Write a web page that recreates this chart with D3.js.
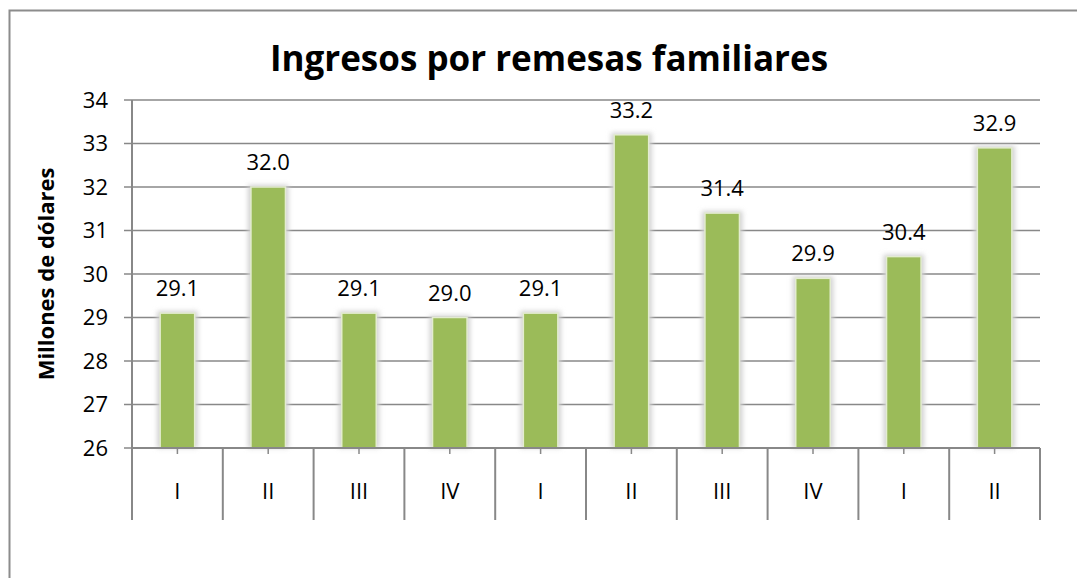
<!DOCTYPE html>
<html>
<head>
<meta charset="utf-8">
<script src="https://cdn.jsdelivr.net/npm/d3@7"></script>
<style>
  body { margin: 0; background: #fff; }
  text { font-family: "Open Sans", "Noto Sans", sans-serif; }
</style>
</head>
<body>
<div id="chart"></div>
<script>
// data
let quarters = ["I", "II", "III", "IV", "I", "II", "III", "IV", "I", "II"];
let remesas = [29.1, 32.0, 29.1, 29.0, 29.1, 33.2, 31.4, 29.9, 30.4, 32.9];
let yTicks = [26, 27, 28, 29, 30, 31, 32, 33, 34];

let svgWidth = 1077;
let svgHeight = 578;

let margin = { top: 100, right: 37, bottom: 130, left: 132 };
let chartWidth = svgWidth - margin.left - margin.right;
let chartHeight = svgHeight - margin.top - margin.bottom;

let svg = d3.select("#chart")
    .append("svg")
    .attr("width", svgWidth)
    .attr("height", svgHeight);

let defs = svg.append("defs");
let blur = defs.append("filter")
    .attr("id", "halo")
    .attr("x", "-50%").attr("y", "-10%")
    .attr("width", "200%").attr("height", "120%");
blur.append("feGaussianBlur").attr("stdDeviation", 2.5);

// outer chart border (runs off the page right and bottom)
svg.append("rect")
    .attr("x", 9.5).attr("y", 10.5)
    .attr("width", 1200).attr("height", 700)
    .attr("fill", "none")
    .attr("stroke", "#8c8c8c")
    .attr("stroke-width", 2);

let chartGroup = svg.append("g")
    .attr("transform", `translate(${margin.left}, ${margin.top})`);

// scales
let xScale = d3.scaleBand()
    .domain(d3.range(quarters.length))
    .range([0, chartWidth])
    .paddingInner(0.62)
    .paddingOuter(0.31);

let yScale = d3.scaleLinear()
    .domain([26, 34])
    .range([chartHeight, 0]);

// gridlines
chartGroup.append("g")
    .selectAll("line")
    .data(yTicks)
    .enter()
    .append("line")
    .attr("x1", -8)
    .attr("x2", chartWidth)
    .attr("y1", d => yScale(d))
    .attr("y2", d => yScale(d))
    .attr("stroke", "#888")
    .attr("stroke-width", 1.5);

// y axis labels
chartGroup.append("g")
    .selectAll("text")
    .data(yTicks)
    .enter()
    .append("text")
    .attr("x", -24)
    .attr("y", d => yScale(d))
    .attr("dy", "0.35em")
    .attr("text-anchor", "end")
    .attr("font-size", 22)
    .attr("fill", "#000")
    .text(d => d);

// bars: soft halo first, then the fill
let bars = chartGroup.append("g");
bars.selectAll("rect.halo")
    .data(remesas)
    .enter()
    .append("rect")
    .attr("class", "halo")
    .attr("x", (d, i) => xScale(i) - 3)
    .attr("y", d => yScale(d) - 2)
    .attr("width", xScale.bandwidth() + 6)
    .attr("height", d => chartHeight - yScale(d) + 2)
    .attr("fill", "#d0d0d0")
    .attr("filter", "url(#halo)");

bars.selectAll("rect.bar")
    .data(remesas)
    .enter()
    .append("rect")
    .attr("class", "bar")
    .attr("x", (d, i) => xScale(i))
    .attr("y", d => yScale(d))
    .attr("width", xScale.bandwidth())
    .attr("height", d => chartHeight - yScale(d))
    .attr("fill", "#9bbb59")
    .attr("stroke", "#e3ecd0")
    .attr("stroke-width", 1.5);

// data labels
chartGroup.append("g")
    .selectAll("text")
    .data(remesas)
    .enter()
    .append("text")
    .attr("x", (d, i) => xScale(i) + xScale.bandwidth() / 2)
    .attr("y", d => yScale(d) - 17)
    .attr("text-anchor", "middle")
    .attr("font-size", 22)
    .attr("fill", "#000")
    .text(d => d.toFixed(1));

// y axis line
chartGroup.append("line")
    .attr("x1", 0).attr("x2", 0)
    .attr("y1", 0).attr("y2", chartHeight + 72)
    .attr("stroke", "#888")
    .attr("stroke-width", 2);

// x axis line
chartGroup.append("line")
    .attr("x1", 0).attr("x2", chartWidth)
    .attr("y1", chartHeight).attr("y2", chartHeight)
    .attr("stroke", "#888")
    .attr("stroke-width", 2);

// category separators
let step = xScale.step();
chartGroup.append("g")
    .selectAll("line")
    .data(d3.range(1, quarters.length + 1))
    .enter()
    .append("line")
    .attr("x1", d => d * step)
    .attr("x2", d => d * step)
    .attr("y1", chartHeight)
    .attr("y2", chartHeight + 72)
    .attr("stroke", "#888")
    .attr("stroke-width", 2);

// small ticks at category centres
chartGroup.append("g")
    .selectAll("line")
    .data(quarters)
    .enter()
    .append("line")
    .attr("x1", (d, i) => xScale(i) + xScale.bandwidth() / 2)
    .attr("x2", (d, i) => xScale(i) + xScale.bandwidth() / 2)
    .attr("y1", chartHeight)
    .attr("y2", chartHeight + 6)
    .attr("stroke", "#888")
    .attr("stroke-width", 1.5);

// category labels
chartGroup.append("g")
    .selectAll("text")
    .data(quarters)
    .enter()
    .append("text")
    .attr("x", (d, i) => xScale(i) + xScale.bandwidth() / 2)
    .attr("y", chartHeight + 51)
    .attr("text-anchor", "middle")
    .attr("font-size", 22)
    .attr("fill", "#000")
    .text(d => d);

// y axis title
svg.append("text")
    .attr("transform", "rotate(-90)")
    .attr("x", -274)
    .attr("y", 54)
    .attr("text-anchor", "middle")
    .attr("font-size", 22)
    .attr("font-weight", "bold")
    .text("Millones de dólares");

// chart title
svg.append("text")
    .attr("x", 549)
    .attr("y", 71)
    .attr("text-anchor", "middle")
    .attr("font-size", 35)
    .attr("font-weight", "bold")
    .text("Ingresos por remesas familiares");
</script>
</body>
</html>
